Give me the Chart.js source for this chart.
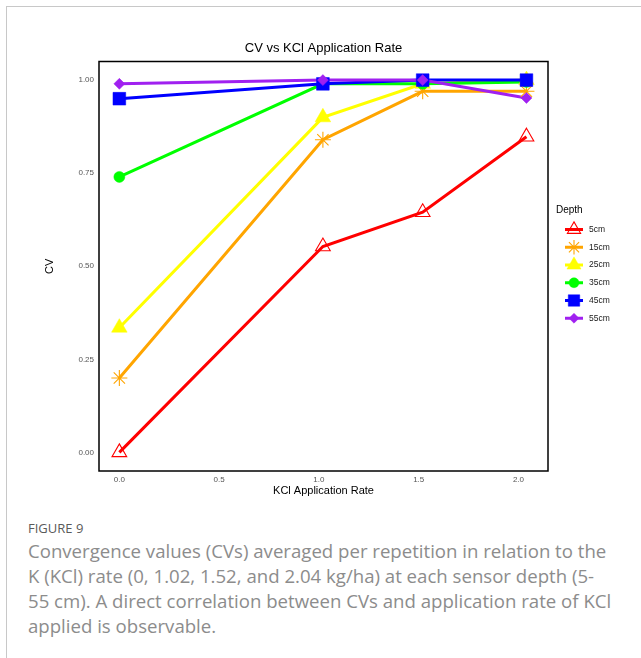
<!DOCTYPE html>
<html><head><meta charset="utf-8">
<script src="https://cdn.jsdelivr.net/npm/chart.js@4.4.1/dist/chart.umd.min.js"></script>
<style>
html,body{margin:0;padding:0;background:#fff;width:641px;height:658px;overflow:hidden;}
#card{position:absolute;left:6px;top:6px;width:700px;height:700px;border-top:1px solid #c8c8c8;border-left:1px solid #c8c8c8;}
#wrap{position:absolute;left:0;top:0;width:641px;height:505px;}
#fig{position:absolute;left:28px;top:519px;font-family:'Open Sans',sans-serif;color:#5a5a5a;font-size:13px;line-height:18px;white-space:nowrap;}
#cap{position:absolute;left:28px;top:538px;font-family:'Open Sans',sans-serif;font-weight:400;color:#8c8c8c;white-space:nowrap;line-height:25px;font-size:18px;}
</style></head>
<body>
<div id="card"></div>
<div id="wrap"><canvas id="c" width="641" height="505"></canvas></div>
<div id="fig">FIGURE 9</div>
<div id="cap"><span id="l1">Convergence values (CVs) averaged per repetition in relation to the</span><br>K (KCl) rate (0, 1.02, 1.52, and 2.04 kg/ha) at each sensor depth (5-<br>55 cm). A direct correlation between CVs and application rate of KCl<br>applied is observable.</div>
<script>
// ---- data ----
const rates = [0, 1.02, 1.52, 2.04];
const depthLabels = ['5cm', '15cm', '25cm', '35cm', '45cm', '55cm'];
const cv5  = [0.00, 0.553, 0.645, 0.848];
const cv15 = [0.20, 0.84, 0.97, 0.97];
const cv25 = [0.335, 0.90, 0.99, 1.00];
const cv35 = [0.74, 0.99, 0.99, 0.995];
const cv45 = [0.95, 0.99, 1.00, 1.00];
const cv55 = [0.99, 1.00, 1.00, 0.952];
const xTickValues = [0, 0.5, 1.0, 1.5, 2.0];
const yTickValues = [0, 0.25, 0.5, 0.75, 1.0];

// ---- styles ----
const seriesValues = [cv5, cv15, cv25, cv35, cv45, cv55];
const colors = ['#FF0000', '#FFA500', '#FFFF00', '#00FF00', '#0000FF', '#A020F0'];
const shapes = ['triangle', 'star', 'triangle', 'circle', 'rect', 'rectRot'];
const radii = [8.5, 8, 9, 5.5, 9, 5.5];
const hollow = [true, true, false, false, false, false];

const datasets = [];
seriesValues.forEach((vals, i) => {
  datasets.push({
    label: depthLabels[i] + ' line',
    data: rates.map((r, k) => ({x: r, y: vals[k]})),
    showLine: true,
    borderColor: colors[i], borderWidth: 3, pointRadius: 0, pointHoverRadius: 0, fill: false, tension: 0,
    order: 20 - i
  });
});
seriesValues.forEach((vals, i) => {
  datasets.push({
    label: depthLabels[i],
    data: rates.map((r, k) => ({x: r, y: vals[k]})),
    showLine: false,
    pointStyle: shapes[i], pointRadius: radii[i], pointHoverRadius: radii[i],
    pointBackgroundColor: hollow[i] ? 'rgba(0,0,0,0)' : colors[i],
    pointBorderColor: colors[i],
    pointBorderWidth: hollow[i] ? 1.1 : 0.5,
    order: 10 - i
  });
});

function drawMarker(ctx, shape, r, x, y, fill, stroke, lw) {
  const opts = {pointStyle: shape, radius: r, rotation: 0, borderWidth: lw};
  ctx.save();
  ctx.fillStyle = fill; ctx.strokeStyle = stroke; ctx.lineWidth = lw;
  if (Chart.helpers && Chart.helpers.drawPoint) {
    Chart.helpers.drawPoint(ctx, opts, x, y);
  }
  ctx.restore();
}

const framePlugin = {
  id: 'frame',
  afterDraw(chart) {
    const {ctx, chartArea: a} = chart;
    ctx.save();
    ctx.strokeStyle = '#000'; ctx.lineWidth = 1.5;
    ctx.strokeRect(a.left, a.top, a.right - a.left, a.bottom - a.top);
    // legend
    ctx.fillStyle = '#000';
    ctx.font = '10px "Liberation Sans", Arial, sans-serif';
    ctx.textBaseline = 'middle'; ctx.textAlign = 'left';
    ctx.fillText('Depth', 556, 210);
    const y0 = 229.5, step = 17.75, mx = 574;
    depthLabels.forEach((lab, i) => {
      const y = y0 + i * step;
      ctx.strokeStyle = colors[i]; ctx.lineWidth = 3;
      ctx.beginPath(); ctx.moveTo(565, y); ctx.lineTo(583, y); ctx.stroke();
      drawMarker(ctx, shapes[i], radii[i] * 0.9, mx, y,
        hollow[i] ? 'rgba(255,255,255,0)' : colors[i], colors[i], hollow[i] ? 1.1 : 0.5);
      ctx.fillStyle = '#1a1a1a';
      ctx.font = '8.5px "Liberation Sans", Arial, sans-serif';
      ctx.fillText(lab, 589, y);
    });
    ctx.restore();
  }
};

Chart.defaults.font.family = '"Liberation Sans", Arial, sans-serif';

new Chart(document.getElementById('c'), {
  type: 'scatter',
  data: {datasets},
  options: {
    responsive: false, animation: false,
    layout: {padding: {left: 0, right: 93, top: 0, bottom: 0}},
    plugins: {
      legend: {display: false}, tooltip: {enabled: false},
      title: {display: true, text: 'CV vs KCl Application Rate', fullSize: false,
        color: '#000', font: {size: 13, weight: 'normal'}, padding: {top: 40.2, bottom: 5.7}}
    },
    scales: {
      x: {
        type: 'linear', min: -0.102, max: 2.148,
        grid: {display: false, drawTicks: false}, border: {display: false},
        afterBuildTicks: s => { s.ticks = xTickValues.map(v => ({value: v})); },
        afterFit: s => { s.height = 34; },
        ticks: {padding: 4, color: '#555', font: {size: 8}, callback: v => Number(v).toFixed(1), maxRotation: 0, autoSkip: false},
        title: {display: true, text: 'KCl Application Rate', color: '#000', font: {size: 11}, padding: {top: 0, bottom: 7.4}}
      },
      y: {
        type: 'linear', min: -0.05, max: 1.05,
        grid: {display: false, drawTicks: false}, border: {display: false},
        afterBuildTicks: s => { s.ticks = yTickValues.map(v => ({value: v})); },
        afterFit: s => { s.width = 99; },
        ticks: {padding: 5, color: '#555', font: {size: 8}, callback: v => Number(v).toFixed(2), autoSkip: false},
        title: {display: true, text: 'CV', color: '#000', font: {size: 11}, padding: {top: 43.4, bottom: 0}}
      }
    }
  },
  plugins: [framePlugin]
});

// fit caption width
(function () {
  const cap = document.getElementById('cap');
  const w = document.getElementById('l1').getBoundingClientRect().width;
  const fs = 18 * 579 / w;
  cap.style.fontSize = fs.toFixed(2) + 'px';
})();
</script>
</body></html>
